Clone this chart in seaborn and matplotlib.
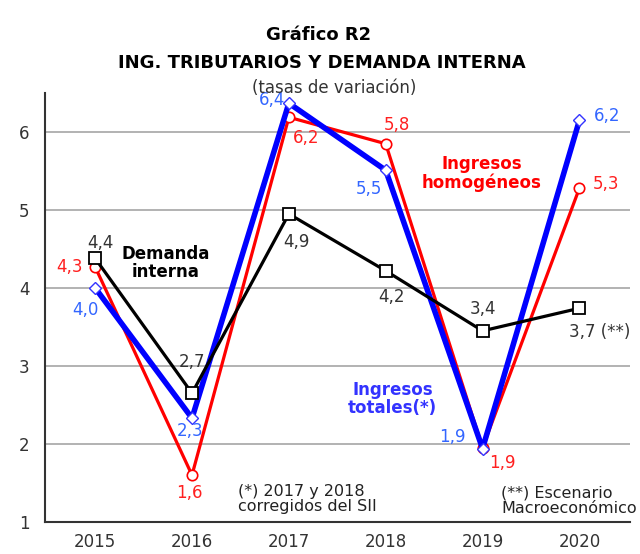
import matplotlib
matplotlib.use("Agg")
import matplotlib.pyplot as plt
import seaborn as sns
import pandas as pd

# data (tasas de variación)
years = [2015, 2016, 2017, 2018, 2019, 2020]
ing_homogeneos = [4.27, 1.6, 6.19, 5.85, 1.95, 5.28]
ing_totales = [4.0, 2.33, 6.37, 5.51, 1.94, 6.15]
demanda_interna = [4.38, 2.65, 4.95, 4.22, 3.45, 3.74]

lbl_homogeneos = ["4,3", "1,6", "6,2", "5,8", "1,9", "5,3"]
lbl_totales = ["4,0", "2,3", "6,4", "5,5", "1,9", "6,2"]
lbl_demanda = ["4,4", "2,7", "4,9", "4,2", "3,4", "3,7 (**)"]

sns.set_style("white")
plt.rcParams["font.family"] = ["DejaVu Sans"]

fig = plt.figure(figsize=(6.4, 5.54), dpi=100)
ax = fig.add_axes([0.070, 0.058, 0.914, 0.774])

df = pd.DataFrame({"year": years, "hom": ing_homogeneos,
                   "tot": ing_totales, "dem": demanda_interna})

sns.lineplot(data=df, x="year", y="hom", ax=ax, color="#ff0000", lw=2.3,
             marker="o", ms=7.5, mfc="white", mec="#ff0000", mew=1.2, zorder=3)
sns.lineplot(data=df, x="year", y="tot", ax=ax, color="#0000ff", lw=4,
             marker="D", ms=6.5, mfc="white", mec="#3333ff", mew=1.0, zorder=4)
sns.lineplot(data=df, x="year", y="dem", ax=ax, color="black", lw=2.3,
             marker="s", ms=8, mfc="white", mec="black", mew=1.3, zorder=5)

ax.set_xlim(2014.48, 2020.52)
ax.set_ylim(1, 6.5)
ax.set_yticks([1, 2, 3, 4, 5, 6])
ax.set_xticks(years)
ax.set_xlabel("")
ax.set_ylabel("")
ax.yaxis.grid(True, color="#a6a6a6", lw=1.2)
ax.set_axisbelow(True)
for s in ["top", "right"]:
    ax.spines[s].set_visible(False)
for s in ["left", "bottom"]:
    ax.spines[s].set_color("#333333")
    ax.spines[s].set_linewidth(1.5)
ax.tick_params(axis="y", length=5, width=1, colors="#333333", labelsize=12, pad=6)
ax.tick_params(axis="x", length=0, colors="#333333", labelsize=12, pad=8)

# value labels (dx in years, dy in y units)
off_hom = [(-0.26, 0.0), (-0.03, -0.23), (0.18, -0.26), (0.12, 0.24), (0.2, -0.2), (0.27, 0.05)]
off_tot = [(-0.1, -0.28), (-0.02, -0.17), (-0.17, 0.04), (-0.17, -0.24), (-0.31, 0.15), (0.29, 0.05)]
off_dem = [(0.05, 0.2), (0.0, 0.4), (0.08, -0.36), (0.06, -0.33), (0.0, 0.28), (0.21, -0.31)]
for vals, lbls, offs, col in [(ing_homogeneos, lbl_homogeneos, off_hom, "#ff2020"),
                              (ing_totales, lbl_totales, off_tot, "#3366ff"),
                              (demanda_interna, lbl_demanda, off_dem, "#333333")]:
    for x, v, t, (dx, dy) in zip(years, vals, lbls, offs):
        ax.text(x + dx, v + dy, t, color=col, fontsize=12, ha="center", va="center", zorder=6)

ax.text(2015.73, 4.32, "Demanda\ninterna", fontsize=12, fontweight="bold",
        color="black", ha="center", va="center", linespacing=1.0)
ax.text(2018.99, 5.47, "Ingresos\nhomogéneos", fontsize=12, fontweight="bold",
        color="#ff0000", ha="center", va="center", linespacing=1.0)
ax.text(2018.07, 2.57, "Ingresos\ntotales(*)", fontsize=12, fontweight="bold",
        color="#3333ff", ha="center", va="center", linespacing=1.0)
ax.text(2016.47, 1.29, "(*) 2017 y 2018\ncorregidos del SII", fontsize=11.5,
        color="#222222", ha="left", va="center", linespacing=1.0)
ax.text(2019.19, 1.27, "(**) Escenario\nMacroeconómico", fontsize=11.5,
        color="#222222", ha="left", va="center", linespacing=1.0)

fig.text(0.497, 0.937, "Gráfico R2", ha="center", va="center", fontsize=13,
         fontweight="bold", color="black")
fig.text(0.503, 0.886, "ING. TRIBUTARIOS Y DEMANDA INTERNA", ha="center", va="center",
         fontsize=13, fontweight="bold", color="black")
fig.text(0.522, 0.841, "(tasas de variación)", ha="center", va="center", fontsize=12,
         color="#333333")

fig.savefig("out.png", dpi=100)
